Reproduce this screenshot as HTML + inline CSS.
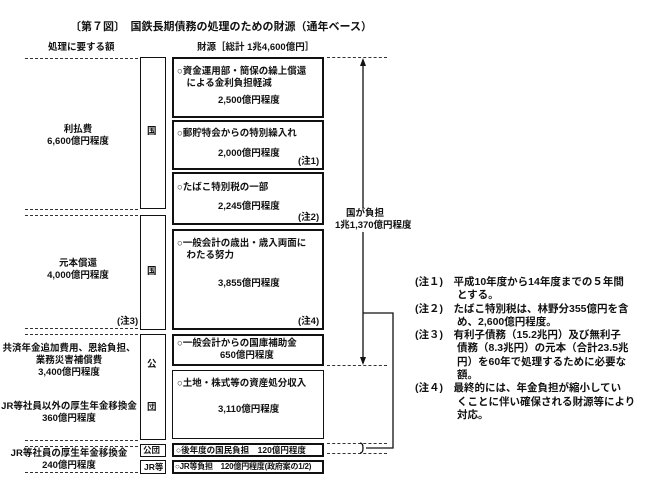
<!DOCTYPE html>
<html><head><meta charset="utf-8"><style>
body{margin:0;width:663px;height:494px;background:#fff;position:relative;overflow:hidden;font-family:"Liberation Sans","Noto Sans CJK JP",sans-serif;color:#111;font-weight:bold}
.a{position:absolute;white-space:nowrap;font-size:9.5px;line-height:12px}
.b{position:absolute;border:2px solid #111;box-sizing:border-box}
.t{position:absolute;border:1.3px solid #111;box-sizing:border-box}
.d{position:absolute;border-top:1.3px dashed #333;height:0}
.c{text-align:center}
.n{position:absolute;left:415px;font-size:10.5px;line-height:13.3px;white-space:nowrap}
</style></head><body>
<div class="a" style="left:70px;top:21px;font-size:11px">〔第７図〕　国鉄長期債務の処理のための財源（通年ベース）</div>
<div class="a" style="left:48px;top:42px">処理に要する額</div>
<div class="a" style="left:197px;top:42px">財源［総計 1兆4,600億円］</div>

<div class="d" style="left:25px;top:58px;width:113px"></div>
<div class="d" style="left:327px;top:57px;width:60px"></div>
<div class="d" style="left:25px;top:209px;width:113px"></div>
<div class="d" style="left:25px;top:215px;width:113px"></div>
<div class="d" style="left:25px;top:328px;width:113px"></div>
<div class="d" style="left:25px;top:334px;width:113px"></div>
<div class="d" style="left:25px;top:440px;width:113px"></div>
<div class="d" style="left:25px;top:446px;width:113px"></div>
<div class="d" style="left:25px;top:472px;width:113px"></div>
<div class="d" style="left:327px;top:365px;width:60px"></div>
<div class="d" style="left:327px;top:443px;width:60px"></div>
<div class="d" style="left:327px;top:453px;width:60px"></div>

<div class="t" style="left:140px;top:57px;width:26px;height:152px"></div>
<div class="a" style="left:147px;top:126px">国</div>
<div class="t" style="left:140px;top:215px;width:26px;height:115px"></div>
<div class="a" style="left:147px;top:266px">国</div>
<div class="t" style="left:140px;top:334px;width:26px;height:106px"></div>
<div class="a" style="left:147px;top:359px">公</div>
<div class="a" style="left:147px;top:402px">団</div>
<div class="t" style="left:140px;top:444px;width:26px;height:13px"></div>
<div class="a" style="left:143px;top:444px;font-size:8.5px">公団</div>
<div class="t" style="left:140px;top:460px;width:26px;height:14px"></div>
<div class="a" style="left:144px;top:461px;font-size:8.5px">JR等</div>

<div class="b" style="left:172px;top:57px;width:152px;height:61px"></div>
<div class="a" style="left:177px;top:66px">○資金運用部・簡保の繰上償還<br>　による金利負担軽減</div>
<div class="a" style="left:218px;top:95px">2,500億円程度</div>
<div class="b" style="left:172px;top:120px;width:152px;height:50px"></div>
<div class="a" style="left:177px;top:128px">○郵貯特会からの特別繰入れ</div>
<div class="a" style="left:218px;top:148px">2,000億円程度</div>
<div class="a" style="left:298px;top:156px">(注1)</div>
<div class="b" style="left:172px;top:172px;width:152px;height:53px"></div>
<div class="a" style="left:177px;top:182px">○たばこ特別税の一部</div>
<div class="a" style="left:218px;top:201px">2,245億円程度</div>
<div class="a" style="left:298px;top:212px">(注2)</div>
<div class="b" style="left:172px;top:229px;width:152px;height:101px"></div>
<div class="a" style="left:177px;top:238px">○一般会計の歳出・歳入両面に<br>　わたる努力</div>
<div class="a" style="left:218px;top:278px">3,855億円程度</div>
<div class="a" style="left:298px;top:316px">(注4)</div>
<div class="b" style="left:172px;top:334px;width:152px;height:32px"></div>
<div class="a" style="left:177px;top:338px">○一般会計からの国庫補助金</div>
<div class="a" style="left:220px;top:350px">650億円程度</div>
<div class="t" style="left:172px;top:370px;width:152px;height:69px"></div>
<div class="a" style="left:177px;top:378px">○土地・株式等の資産処分収入</div>
<div class="a" style="left:218px;top:404px">3,110億円程度</div>
<div class="b" style="left:172px;top:443px;width:152px;height:14px"></div>
<div class="a" style="left:176px;top:444px;font-size:8.5px">○後年度の国民負担　120億円程度</div>
<div class="b" style="left:172px;top:460px;width:152px;height:14px"></div>
<div class="a" style="left:175px;top:461px;font-size:8px;letter-spacing:-0.2px">○JR等負担　120億円程度(政府案の1/2)</div>

<div class="a c" style="left:28px;top:124px;width:100px">利払費<br>6,600億円程度</div>
<div class="a c" style="left:28px;top:258px;width:100px">元本償還<br>4,000億円程度</div>
<div class="a" style="left:117px;top:316px">(注3)</div>
<div class="a c" style="left:0px;top:343px;width:138px">共済年金追加費用、恩給負担、<br>業務災害補償費<br>3,400億円程度</div>
<div class="a c" style="left:0px;top:401px;width:138px">JR等社員以外の厚生年金移換金<br>360億円程度</div>
<div class="a c" style="left:10px;top:448px;width:118px">JR等社員の厚生年金移換金<br>240億円程度</div>

<svg style="position:absolute;left:0;top:0" width="663" height="494">
<g stroke="#111" stroke-width="1.3" fill="none">
<line x1="363" y1="60" x2="363" y2="363"/>
<polyline points="363,313 393,313 393,448 366,448"/>
<path d="M360,443 q3,0 3,5 q0,5 -3,5"/>
</g>
<polygon points="363,58 360,66 366,66" fill="#111"/>
<polygon points="363,365 360,357 366,357" fill="#111"/>
</svg>
<div class="a c" style="left:335px;top:208px;width:60px;background:#fff">国が負担<br>1兆1,370億円程度</div>

<div class="n" style="top:276px">(注１)　平成10年度から14年度までの５年間<br>　　　　とする。<br>(注２)　たばこ特別税は、林野分355億円を含<br>　　　　め、2,600億円程度。<br>(注３)　有利子債務（15.2兆円）及び無利子<br>　　　　債務（8.3兆円）の元本（合計23.5兆<br>　　　　円）を60年で処理するために必要な<br>　　　　額。<br>(注４)　最終的には、年金負担が縮小してい<br>　　　　くことに伴い確保される財源等により<br>　　　　対応。</div>
</body></html>
